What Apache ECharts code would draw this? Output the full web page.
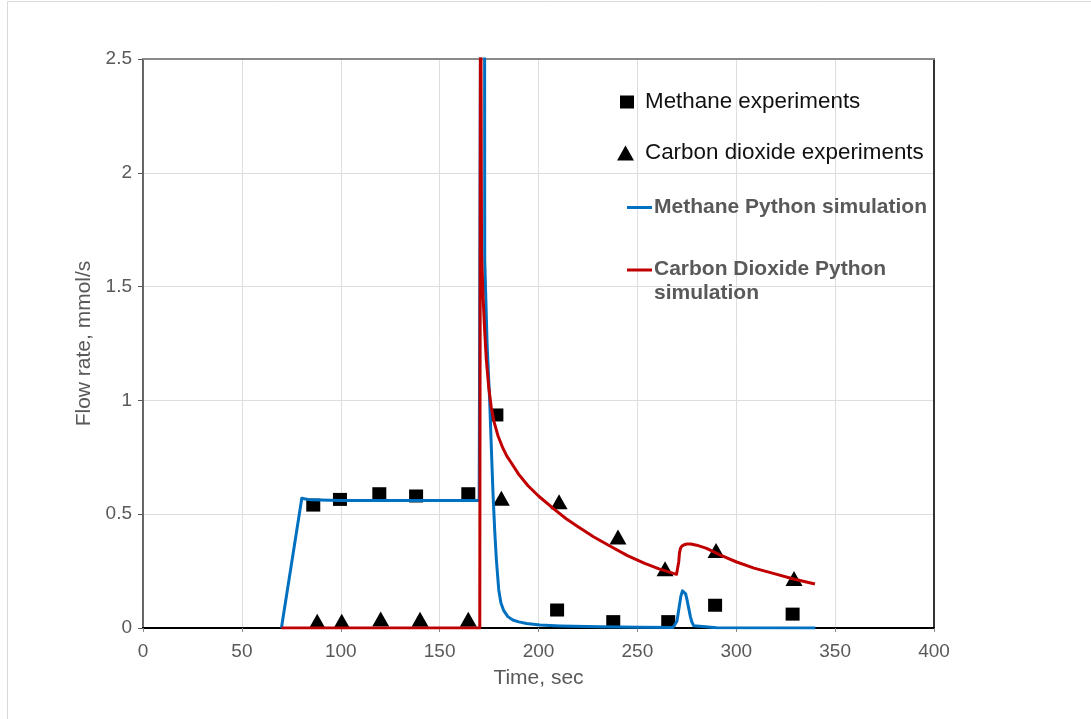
<!DOCTYPE html>
<html>
<head>
<meta charset="utf-8">
<script src="https://cdn.jsdelivr.net/npm/echarts@6/dist/echarts.min.js"></script>
<style>
html,body{margin:0;padding:0;background:#fff;}
#chart{width:1091px;height:719px;}
</style>
</head>
<body>
<div id="chart"></div>
<script>
// ---- Data ----
const methaneExpTime = [86.1, 99.6, 119.5, 138.1, 164.5, 178.7, 209.4, 237.8, 265.6, 289.3, 328.5];
const methaneExpRate = [0.54, 0.565, 0.59, 0.58, 0.59, 0.936, 0.079, 0.028, 0.028, 0.10, 0.061];

const co2ExpTime = [88.1, 100.5, 120.2, 140.1, 164.5, 181.2, 210.4, 240.2, 264.0, 289.8, 329.2];
const co2ExpRate = [0.03, 0.03, 0.04, 0.038, 0.038, 0.57, 0.555, 0.40, 0.26, 0.34, 0.218];

const methaneSimTime = [70, 80.3, 84.5, 100, 140, 168.7, 170, 172.4, 172.8, 174, 175.3, 176.2, 177, 177.9, 178.7, 179.9, 181, 182.5, 184.5, 187, 190, 194, 200.8, 211, 231, 251, 268, 269, 270, 271, 272, 272.8, 273.6, 274.4, 275.2, 276, 276.8, 277.6, 278.5, 279.5, 290, 340];
const methaneSimRate = [0, 0.57, 0.563, 0.56, 0.56, 0.56, 0.56, 8, 1.62, 1.25, 1.0, 0.78, 0.59, 0.42, 0.3, 0.167, 0.11, 0.075, 0.05, 0.035, 0.027, 0.02, 0.013, 0.009, 0.005, 0.003, 0.002, 0.006, 0.03, 0.085, 0.14, 0.163, 0.165, 0.15, 0.12, 0.085, 0.05, 0.025, 0.01, 0.004, 0.001, 0];

const co2SimTime = [70, 170.3, 170.7, 171.2, 171.9, 172.7, 173.6, 174.8, 176.1, 177.7, 179.5, 182, 184, 186.3, 190, 194.7, 200, 208.2, 214, 220, 228, 236.8, 245, 253.7, 261, 268.2, 269.8, 270.4, 270.9, 271.3, 271.8, 272.5, 273.8, 275, 277, 280, 285, 292, 300.2, 309, 318.7, 329, 339.8];
const co2SimRate = [0, 0, 3.2, 1.65, 1.47, 1.32, 1.18, 1.06, 0.97, 0.9, 0.845, 0.79, 0.755, 0.725, 0.675, 0.625, 0.58, 0.52, 0.48, 0.445, 0.40, 0.357, 0.318, 0.284, 0.26, 0.24, 0.236, 0.24, 0.29, 0.33, 0.35, 0.36, 0.366, 0.369, 0.369, 0.364, 0.35, 0.32, 0.29, 0.263, 0.24, 0.215, 0.193];

const seriesNames = ['Methane experiments', 'Carbon dioxide experiments', 'Methane Python simulation', 'Carbon Dioxide Python simulation'];
const xTitle = 'Time, sec';
const yTitle = 'Flow rate, mmol/s';

const zip = (a, b) => a.map((v, i) => [v, b[i]]);

const FONT = "'Liberation Sans', Arial, sans-serif";
const chart = echarts.init(document.getElementById('chart'), null, {renderer: 'canvas'});

const legendTextNormal = {fontFamily: FONT, fontSize: 22.4, color: '#111', lineHeight: 26, padding: [0, 0, 0, 6]};
const legendTextBold = {fontFamily: FONT, fontSize: 21, fontWeight: 'bold', color: '#595959', lineHeight: 25, padding: [0, 0, 0, -3]};

chart.setOption({
  backgroundColor: '#ffffff',
  animation: false,
  graphic: [{
    type: 'rect', silent: true, z: -10,
    shape: {x: 7.5, y: 1.5, width: 1200, height: 800},
    style: {fill: 'none', stroke: '#d9d9d9', lineWidth: 1}
  }],
  grid: {left: 143, right: 157, top: 59, bottom: 91, containLabel: false},
  legend: [
    {
      data: [{name: seriesNames[0], icon: 'rect'}],
      orient: 'vertical', left: 620, top: 89, padding: 0,
      itemWidth: 14, itemHeight: 13, itemGap: 0,
      itemStyle: {opacity: 1},
      textStyle: legendTextNormal, selectedMode: false
    },
    {
      data: [{name: seriesNames[1], icon: 'triangle'}],
      orient: 'vertical', left: 617, top: 140, padding: 0,
      itemWidth: 17, itemHeight: 15, itemGap: 0,
      itemStyle: {opacity: 1},
      textStyle: legendTextNormal, selectedMode: false
    },
    {
      data: [{name: seriesNames[2], icon: 'rect'}],
      orient: 'vertical', left: 627, top: 193.5, padding: 0,
      itemWidth: 25, itemHeight: 3, itemGap: 0,
      itemStyle: {borderWidth: 0},
      textStyle: Object.assign({}, legendTextBold, {padding: [3, 0, 0, -3]}), selectedMode: false
    },
    {
      data: [{name: seriesNames[3], icon: 'path://M0,0h26v3h-26zM0,26h0.01v0.01h-0.01z'}],
      orient: 'vertical', left: 627, top: 257.5, padding: 0,
      itemWidth: 25, itemHeight: 26, itemGap: 0,
      symbolKeepAspect: false,
      itemStyle: {borderWidth: 0},
      formatter: () => 'Carbon Dioxide Python\nsimulation',
      textStyle: Object.assign({}, legendTextBold, {lineHeight: 24}), selectedMode: false
    }
  ],
  xAxis: [
    {
      type: 'value', min: 0, max: 400, interval: 50,
      name: xTitle, nameLocation: 'middle', nameGap: 40,
      nameTextStyle: {fontFamily: FONT, fontSize: 21, color: '#595959'},
      axisLine: {show: true, onZero: false, lineStyle: {color: '#000', width: 2}},
      axisTick: {show: true, inside: false, length: 4, lineStyle: {color: '#888'}},
      axisLabel: {fontFamily: FONT, fontSize: 19, color: '#595959', margin: 14},
      splitLine: {show: true, lineStyle: {color: '#dedede', width: 1}}
    },
    {
      type: 'value', min: 0, max: 400, interval: 50, position: 'top',
      axisLine: {show: true, onZero: false, lineStyle: {color: '#8a8a8a', width: 2}},
      axisTick: {show: false}, axisLabel: {show: false}, splitLine: {show: false}
    }
  ],
  yAxis: [
    {
      type: 'value', min: 0, max: 2.5, interval: 0.5,
      name: yTitle, nameLocation: 'middle', nameGap: 43,
      nameTextStyle: {fontFamily: FONT, fontSize: 21, color: '#595959'},
      axisLine: {show: true, onZero: false, lineStyle: {color: '#666', width: 2}},
      axisTick: {show: true, inside: false, length: 5, lineStyle: {color: '#595959'}},
      axisLabel: {fontFamily: FONT, fontSize: 19, color: '#595959', margin: 11},
      splitLine: {show: true, lineStyle: {color: '#dedede', width: 1}}
    },
    {
      type: 'value', min: 0, max: 2.5, interval: 0.5, position: 'right',
      axisLine: {show: true, onZero: false, lineStyle: {color: '#333', width: 2}},
      axisTick: {show: false}, axisLabel: {show: false}, splitLine: {show: false}
    }
  ],
  series: [
    {
      name: seriesNames[0], type: 'scatter', symbol: 'rect', symbolSize: [14, 13],
      itemStyle: {color: '#000', opacity: 1}, data: zip(methaneExpTime, methaneExpRate), z: 2
    },
    {
      name: seriesNames[1], type: 'scatter', symbol: 'triangle', symbolSize: [17, 15],
      itemStyle: {color: '#000', opacity: 1}, data: zip(co2ExpTime, co2ExpRate), z: 2
    },
    {
      name: seriesNames[2], type: 'line', showSymbol: false, symbol: 'none', clip: true,
      lineStyle: {color: '#0070c0', width: 3, join: 'round'}, itemStyle: {color: '#0070c0'},
      data: zip(methaneSimTime, methaneSimRate), z: 3
    },
    {
      name: seriesNames[3], type: 'line', showSymbol: false, symbol: 'none', clip: true,
      lineStyle: {color: '#c00000', width: 3, join: 'round'}, itemStyle: {color: '#c00000'},
      data: zip(co2SimTime, co2SimRate), z: 3
    }
  ]
});
</script>
</body>
</html>
